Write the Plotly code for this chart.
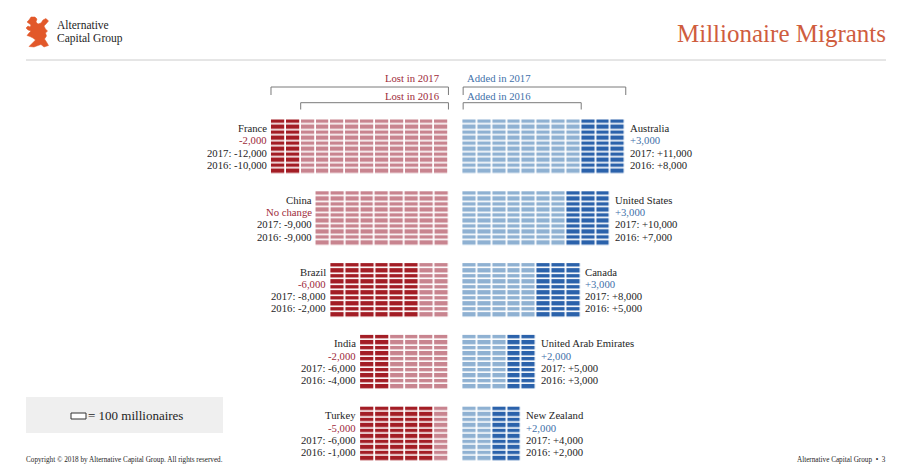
import plotly.graph_objects as go

# ---------------- data ----------------
left_countries = ["France", "China", "Brazil", "India", "Turkey"]
left_2017 = [12000, 9000, 8000, 6000, 6000]      # millionaires lost in 2017
left_2016 = [10000, 9000, 2000, 4000, 1000]      # millionaires lost in 2016

right_countries = ["Australia", "United States", "Canada", "United Arab Emirates", "New Zealand"]
right_2017 = [11000, 10000, 8000, 5000, 4000]    # millionaires added in 2017
right_2016 = [8000, 7000, 5000, 3000, 2000]      # millionaires added in 2016

CELL_VALUE = 100      # one small rectangle = 100 millionaires
ROWS = 10             # rectangles per column

# ---------------- layout constants ----------------
W, H = 901, 473
FONT = "Liberation Serif"
CENTER_PX = 455.8     # pixel x of the axis zero
PITCH = 14.85         # pixels per column (1,000 millionaires)
G = 0.445             # half gap between sides, in column units
ROW_H = 5.45
TOP0 = 119.5
GROUP_STEP = 71.8
LINE_OFF = [8.5, 20.8, 33.1, 45.3]
LBL = 10.7

DARK_RED, LIGHT_RED = "#a31d25", "#c8848f"
DARK_BLUE, LIGHT_BLUE = "#2b62ab", "#8fb1d2"
RED_TXT, BLUE_TXT = "#9e2b3a", "#3f71aa"
TXT = "#1e1e1e"

col_value = CELL_VALUE * ROWS


def fmt(v, sign):
    return f"{sign}{v:,}"


def px2paper(x, y):
    return x / W, 1 - y / H


fig = go.Figure()
annotations = []
shapes = []


def ann(x, y, text, size=LBL, color=TXT, xanchor="left", xref="paper", yref="paper", xshift=0):
    if xref == "paper":
        x = x / W
    if yref == "paper":
        y = 1 - y / H
    annotations.append(dict(x=x, y=y, xref=xref, yref=yref, text=text, showarrow=False,
                            xanchor=xanchor, yanchor="middle", xshift=xshift,
                            font=dict(family=FONT, size=size, color=color)))


# ---------------- waffles ----------------
for side in ("left", "right"):
    names = left_countries if side == "left" else right_countries
    v17 = left_2017 if side == "left" else right_2017
    v16 = left_2016 if side == "left" else right_2016
    light, dark = (LIGHT_RED, DARK_RED) if side == "left" else (LIGHT_BLUE, DARK_BLUE)
    for i, (name, a, b) in enumerate(zip(names, v17, v16)):
        n17 = a // col_value
        n16 = b // col_value
        top = TOP0 + i * GROUP_STEP
        # columns counted from the centre outward; k < n16 light, else dark
        ks = list(range(n17))
        if side == "left":
            ks = ks[::-1]
            xs = [-(G + k + 0.5) for k in ks]
        else:
            xs = [G + k + 0.5 for k in ks]
        ys = [top + (r + 0.5) * ROW_H for r in range(ROWS)]
        z = [[1 if k < n16 else 2 for k in ks] for _ in range(ROWS)]
        fig.add_trace(go.Heatmap(x=xs, y=ys, z=z, zmin=1, zmax=2,
                                 colorscale=[[0, light], [1, dark]], showscale=False,
                                 xgap=1.8, ygap=1.6, hoverinfo="skip"))
        diff = a - b
        if side == "left":
            edge = -(G + n17)
            delta = "No change" if diff == 0 else fmt(diff, "-")
            lines = [(name, TXT), (delta, RED_TXT),
                     (f"2017: {fmt(a, '-')}", TXT), (f"2016: {fmt(b, '-')}", TXT)]
            for off, (t, c) in zip(LINE_OFF, lines):
                ann(edge, top + off, t, color=c, xanchor="right", xref="x", xshift=-2)
        else:
            edge = G + n17
            delta = "No change" if diff == 0 else fmt(diff, "+")
            lines = [(name, TXT), (delta, BLUE_TXT),
                     (f"2017: {fmt(a, '+')}", TXT), (f"2016: {fmt(b, '+')}", TXT)]
            for off, (t, c) in zip(LINE_OFF, lines):
                ann(edge, top + off, t, color=c, xanchor="left", xref="x", xshift=2)

# ---------------- brackets ----------------
max_l17 = max(left_2017) / col_value
max_l16 = max(left_2016) / col_value
max_r17 = max(right_2017) / col_value
max_r16 = max(right_2016) / col_value


def bracket(x0, x1, ytop, ybot):
    shapes.append(dict(type="path", xref="x", yref="y",
                       path=f"M {x0},{ybot} L {x0},{ytop} L {x1},{ytop} L {x1},{ybot}",
                       line=dict(color="#7a7a7a", width=1)))


bracket(-(G + max_l17), -G - 0.05, 87, 95)
bracket(-(G + max_l16), -G - 0.05, 102.7, 109.5)
bracket(G + 0.05, G + max_r17, 87, 95)
bracket(G + 0.05, G + max_r16, 102.7, 109.5)

ann(-G - 0.5, 78, "Lost in 2017", color=RED_TXT, xanchor="right", xref="x", yref="y")
ann(-G - 0.5, 95.5, "Lost in 2016", color=RED_TXT, xanchor="right", xref="x", yref="y")
ann(G + 0.15, 78, "Added in 2017", color=BLUE_TXT, xanchor="left", xref="x", yref="y")
ann(G + 0.15, 95.5, "Added in 2016", color=BLUE_TXT, xanchor="left", xref="x", yref="y")

# ---------------- header / footer decoration ----------------
x0p, y0p = px2paper(26, 60)
x1p, _ = px2paper(886, 60)
shapes.append(dict(type="line", xref="paper", yref="paper", x0=x0p, y0=y0p, x1=x1p, y1=y0p,
                   line=dict(color="#cccccc", width=1)))

lion = [(31, 17), (35, 17), (37, 19), (36, 22), (38, 24), (41, 23), (43, 20), (46, 18.5),
        (48.5, 21), (46, 24), (44, 26), (45.5, 29), (47.5, 31), (45.5, 33), (46.5, 36),
        (44.5, 39), (46.5, 42), (48.5, 45.5), (44, 47), (41, 44.5), (38, 45.5), (34, 47),
        (29, 46.5), (32.5, 43), (35.5, 40), (33, 38), (30, 36.5), (27, 35.5), (29, 33),
        (31, 31), (28, 30), (26, 28), (28, 26), (30, 27), (31, 25), (29, 23.5), (27, 22),
        (29, 20)]
pts = [px2paper(x, y) for x, y in lion]
path = "M " + " L ".join(f"{x:.5f},{y:.5f}" for x, y in pts) + " Z"
shapes.append(dict(type="path", xref="paper", yref="paper", path=path,
                   fillcolor="#e2582a", line=dict(color="#e2582a", width=0.5)))

ann(55, 25, "Alternative", size=11.5)
ann(55, 38, "Capital Group", size=11.5)
ann(888, 33, "Millionaire Migrants", size=25, color="#cf5d3e", xanchor="right")

# legend box
bx0, by0 = px2paper(26, 397)
bx1, by1 = px2paper(223, 433)
shapes.append(dict(type="rect", xref="paper", yref="paper", x0=bx0, y0=by0, x1=bx1, y1=by1,
                   fillcolor="#efefef", line=dict(width=0)))
rx0, ry0 = px2paper(71, 413)
rx1, ry1 = px2paper(86, 419)
shapes.append(dict(type="rect", xref="paper", yref="paper", x0=rx0, y0=ry0, x1=rx1, y1=ry1,
                   fillcolor="#ffffff", line=dict(color="#333333", width=1)))
ann(86, 415, f"= {CELL_VALUE} millionaires", size=13)

ann(24, 460, "Copyright © 2018 by Alternative Capital Group. All rights reserved.", size=7.2)
ann(888, 460, "Alternative Capital Group  •  3", size=7.2, xanchor="right")

fig.update_layout(
    width=W, height=H,
    margin=dict(l=0, r=0, t=0, b=0),
    paper_bgcolor="white", plot_bgcolor="white",
    showlegend=False,
    xaxis=dict(range=[(0 - CENTER_PX) / PITCH, (W - CENTER_PX) / PITCH], visible=False,
               fixedrange=True),
    yaxis=dict(range=[H, 0], visible=False, fixedrange=True),
    annotations=annotations,
    shapes=shapes,
)

fig.write_html("out.html", config={"displayModeBar": False},
               post_script="document.body.style.margin='0px';")
